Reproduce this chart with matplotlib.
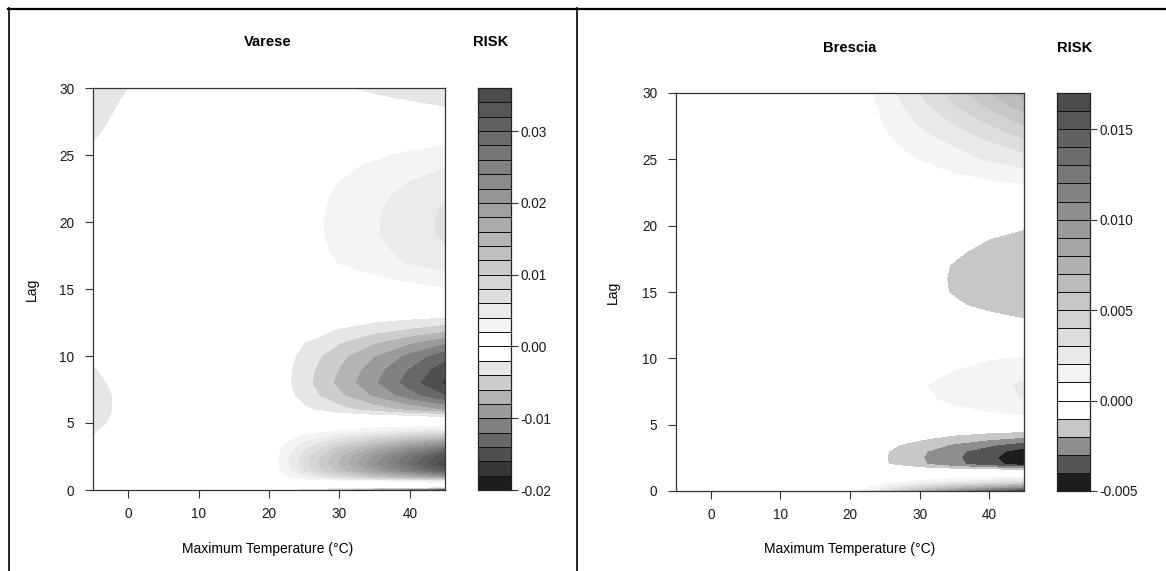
import numpy as np
import matplotlib
matplotlib.use('Agg')
import matplotlib.pyplot as plt
from matplotlib.colors import ListedColormap, LinearSegmentedColormap
from matplotlib.lines import Line2D

plt.rcParams['font.family'] = ['Liberation Sans', 'DejaVu Sans']

# ---------------- data (risk values in units of 0.001) ----------------
temps = [-5, 0, 5, 10, 15, 20, 25, 30, 35, 40, 45]

varese_lags = [0, 0.2, 0.45, 0.7, 1, 1.5, 2, 2.5, 3, 3.5, 4, 4.5, 5, 5.5, 6, 7, 8, 9, 10,
               11, 12, 13, 14, 15, 16, 17, 18, 19, 20, 21, 22, 23, 24, 25, 26, 27, 28, 29, 30]
varese_risk_milli = [
    [0, 0, 0, 0, 0, 0, -3.8, -7.6, -11.4, -15.2, -19.0],
    [0, 0, 0, 0, 0, 0, -0.5, -1.0, -1.5, -2.0, -2.5],
    [0, 0, 0, 0, 0, 0, 0.1, 0.2, 0.3, 0.4, 0.5],
    [0, 0, 0, 0, 0, 0, 0.7, 1.4, 2.1, 2.8, 3.5],
    [0, 0, 0, 0, 0, 0, 3.9, 7.8, 11.8, 15.7, 19.6],
    [0, 0, 0, 0, 0, 0, 6.4, 12.8, 19.2, 25.6, 32.0],
    [0, 0, 0, 0, 0, 0, 7.1, 14.2, 21.4, 28.5, 35.6],
    [0, 0, 0, 0, 0, 0, 6.8, 13.5, 20.3, 27.0, 33.8],
    [0, 0, 0, 0, 0, 0, 5.7, 11.4, 17.1, 22.8, 28.5],
    [-1.4, -0.3, 0, 0, 0, 0, 4.1, 8.2, 12.4, 16.5, 20.6],
    [-2.0, -0.6, 0, 0, 0, 0, 2.3, 4.7, 7.0, 9.4, 11.7],
    [-2.3, -0.8, 0, 0, 0, 0, 0.9, 1.7, 2.6, 3.4, 4.3],
    [-2.6, -1.1, 0, 0, 0, 0, 0.0, -0.1, -0.1, -0.2, -0.2],
    [-2.8, -1.2, 0, 0, 0, 0, -0.5, -1.0, -1.5, -2.0, -2.5],
    [-2.9, -1.3, 0, 0, 0, 0, -1.6, -3.3, -4.9, -6.6, -8.2],
    [-2.9, -1.3, 0, 0, 0, 0, -2.8, -5.6, -8.3, -11.1, -13.9],
    [-2.6, -1.1, 0, 0, 0, 0, -3.3, -6.6, -9.8, -13.1, -16.4],
    [-2.2, -0.8, 0, 0, 0, 0, -3.1, -6.1, -9.2, -12.2, -15.3],
    [-1.5, -0.5, 0, 0, 0, 0, -2.7, -5.4, -8.0, -10.7, -13.4],
    [-0.8, -0.2, 0, 0, 0, 0, -2.0, -3.9, -5.9, -7.8, -9.8],
    [-0.3, 0, 0, 0, 0, 0, -1.1, -2.1, -3.2, -4.2, -5.3],
    [0, 0, 0, 0, 0, 0, -0.3, -0.6, -1.0, -1.3, -1.6],
    [0, 0, 0, 0, 0, 0, 0.1, 0.2, 0.3, 0.4, 0.5],
    [0, 0, 0, 0, 0, 0, 0.4, 0.7, 1.1, 1.4, 1.8],
    [0, 0, 0, 0, 0, 0, 0.6, 1.3, 1.9, 2.6, 3.2],
    [0, 0, 0, 0, 0, 0, 1.0, 2.1, 3.1, 4.2, 5.2],
    [0, 0, 0, 0, 0, 0, 1.2, 2.3, 3.5, 4.6, 5.8],
    [0, 0, 0, 0, 0, 0, 1.3, 2.5, 3.8, 5.0, 6.3],
    [0, 0, 0, 0, 0, 0, 1.3, 2.5, 3.8, 5.1, 6.35],
    [0, 0, 0, 0, 0, 0, 1.2, 2.5, 3.7, 5.0, 6.2],
    [0, 0, 0, 0, 0, 0, 1.1, 2.3, 3.4, 4.6, 5.7],
    [0, 0, 0, 0, 0, 0, 1.0, 2.0, 3.0, 4.0, 5.0],
    [-0.6, 0, 0, 0, 0, 0, 0.8, 1.6, 2.4, 3.2, 4.0],
    [-1.3, -0.2, 0, 0, 0, 0, 0.6, 1.2, 1.7, 2.3, 2.9],
    [-2.1, -0.5, 0, 0, 0, 0, 0.3, 0.6, 1.0, 1.3, 1.6],
    [-2.6, -0.8, -0.1, 0, 0, 0, 0.1, 0.1, 0.2, 0.2, 0.3],
    [-3.0, -1.2, -0.2, 0, 0, 0, -0.2, -0.5, -0.9, -1.2, -1.6],
    [-3.3, -1.6, -0.4, 0, 0, 0, -0.4, -1.0, -1.5, -2.0, -2.3],
    [-3.5, -2.05, -0.8, 0, 0, 0, -0.8, -1.8, -2.5, -2.9, -3.1],
]

brescia_lags = [0, 0.3, 0.6, 1, 1.3, 1.5, 2, 2.5, 3, 3.5, 4, 4.5, 5, 5.5, 6, 7, 8, 9, 10,
                11, 12, 13, 14, 15, 16, 17, 18, 19, 20, 21, 22, 23, 24, 25, 26, 27, 28, 29, 30]
brescia_risk_milli = [
    [0, 0, 0, 0, 0, 0, 3.3, 6.6, 9.9, 13.2, 16.5],
    [0, 0, 0, 0, 0, 0, 1.8, 3.6, 5.5, 7.3, 9.1],
    [0, 0, 0, 0, 0, 0, 0.8, 1.6, 2.5, 3.3, 4.1],
    [0, 0, 0, 0, 0, 0, 0.2, 0.4, 0.7, 0.9, 1.1],
    [0, 0, 0, 0, 0, 0, 0, 0, 0, 0, 0],
    [0, 0, 0, 0, 0, 0, -0.1, -0.2, -0.3, -0.4, -0.5],
    [0, 0, 0, 0, 0, 0, -0.9, -1.8, -2.7, -3.6, -4.5],
    [0, 0, 0, 0, 0, 0, -0.94, -1.9, -2.8, -3.8, -4.7],
    [0, 0, 0, 0, 0, 0, -0.9, -1.8, -2.7, -3.6, -4.45],
    [0, 0, 0, 0, 0, 0, -0.7, -1.4, -2.1, -2.8, -3.5],
    [0, 0, 0, 0, 0, 0, -0.4, -0.8, -1.3, -1.7, -2.1],
    [0, 0, 0, 0, 0, 0, -0.2, -0.4, -0.6, -0.8, -0.95],
    [0, 0, 0, 0, 0, 0, 0, 0.1, 0.1, 0.2, 0.2],
    [0, 0, 0, 0, 0, 0, 0.1, 0.3, 0.4, 0.5, 0.65],
    [0, 0, 0, 0, 0, 0, 0.3, 0.5, 0.8, 1.0, 1.3],
    [0, 0, 0, 0, 0, 0, 0.4, 0.8, 1.2, 1.6, 2.05],
    [0, 0, 0, 0, 0, 0, 0.4, 0.9, 1.3, 1.7, 2.15],
    [0, 0, 0, 0, 0, 0, 0.3, 0.7, 1.0, 1.4, 1.7],
    [0, 0, 0, 0, 0, 0, 0.2, 0.4, 0.6, 0.9, 1.08],
    [0, 0, 0, 0, 0, 0, 0.1, 0.1, 0.2, 0.2, 0.3],
    [0, 0, 0, 0, 0, 0, -0.1, -0.2, -0.3, -0.4, -0.45],
    [0, 0, 0, 0, 0, 0, -0.2, -0.4, -0.6, -0.8, -1.02],
    [0, 0, 0, 0, 0, 0, -0.3, -0.6, -0.9, -1.2, -1.53],
    [0, 0, 0, 0, 0, 0, -0.35, -0.7, -1.06, -1.41, -1.76],
    [0, 0, 0, 0, 0, 0, -0.36, -0.72, -1.08, -1.44, -1.8],
    [0, 0, 0, 0, 0, 0, -0.35, -0.7, -1.05, -1.4, -1.75],
    [0, 0, 0, 0, 0, 0, -0.3, -0.6, -0.9, -1.2, -1.53],
    [0, 0, 0, 0, 0, 0, -0.25, -0.5, -0.76, -1.0, -1.26],
    [0, 0, 0, 0, 0, 0, -0.18, -0.36, -0.54, -0.72, -0.9],
    [0, 0, 0, 0, 0, 0, -0.1, -0.2, -0.3, -0.4, -0.5],
    [0, 0, 0, 0, 0, 0, 0, 0.1, 0.1, 0.2, 0.2],
    [0, 0, 0, 0, 0, 0, 0.2, 0.4, 0.5, 0.7, 0.9],
    [0, 0, 0, 0, 0, 0, 0.3, 0.7, 1.0, 1.3, 1.65],
    [0, 0, 0, 0, 0, 0, 0.5, 1.0, 1.6, 2.1, 2.6],
    [0, 0, 0, 0, 0, 0, 0.7, 1.4, 2.0, 2.7, 3.4],
    [0, 0, 0, 0, 0, 0, 0.9, 1.8, 2.6, 3.5, 4.4],
    [0, 0, 0, 0, 0, 0, 1.1, 2.2, 3.2, 4.3, 5.4],
    [0, 0, 0, 0, 0, 0, 1.3, 2.6, 3.9, 5.2, 6.5],
    [0, 0, 0, 0, 0, 0, 1.5, 3.0, 4.4, 5.9, 7.4],
]

varese_levels = np.linspace(-0.020, 0.036, 29)
brescia_levels = np.linspace(-0.005, 0.017, 23)
varese_ticks = [-0.02, -0.01, 0.0, 0.01, 0.02, 0.03]
varese_ticklabels = ['-0.02', '-0.01', '0.00', '0.01', '0.02', '0.03']
brescia_ticks = [-0.005, 0.0, 0.005, 0.010, 0.015]
brescia_ticklabels = ['-0.005', '0.000', '0.005', '0.010', '0.015']
x_ticks = [0, 10, 20, 30, 40]
y_ticks = [0, 5, 10, 15, 20, 25, 30]

# ---------------- drawing ----------------
W, H = 1166, 571
fig = plt.figure(figsize=(W / 100, H / 100), dpi=100)
fig.patch.set_facecolor('white')

TICK_FS = 9.8
LABEL_FS = 10
TITLE_FS = 10.6


def fx(px):
    return px / W


def fy(py):
    return 1 - py / H


def risk_colors(levels):
    lv = np.asarray(levels)
    n_neg = int(np.sum(lv < -1e-12))
    n_pos = int(np.sum(lv > 1e-12))
    neg = LinearSegmentedColormap.from_list('neg', ['#1d1d1d', '#ffffff'])
    pos = LinearSegmentedColormap.from_list('pos', ['#ffffff', '#4c4c4c'])
    cols = [neg(i / (n_neg - 1)) for i in range(n_neg)]
    cols += [pos(i / (n_pos - 1)) for i in range(n_pos)]
    return cols


def panel(box, cbox, lags, risk, levels, ticks, ticklabels):
    x0, y0, x1, y1 = box
    ax = fig.add_axes([fx(x0), fy(y1), fx(x1 - x0), (y1 - y0) / H])
    z = np.array(risk) * 1e-3
    cols = risk_colors(levels)
    ax.contourf(temps, lags, z, levels=levels, colors=cols, antialiased=False)
    ax.set_xlim(-5, 45)
    ax.set_ylim(0, 30)
    ax.set_xticks(x_ticks)
    ax.set_yticks(y_ticks)
    ax.tick_params(direction='out', length=5.5, width=0.8, color='#333333',
                   labelsize=TICK_FS, labelcolor='#1a1a1a')
    ax.tick_params(axis='x', pad=7)
    ax.tick_params(axis='y', pad=8)
    for s in ax.spines.values():
        s.set_color('#333333')
        s.set_linewidth(0.9)

    cx0, cy0, cx1, cy1 = cbox
    cax = fig.add_axes([fx(cx0), fy(cy1), fx(cx1 - cx0), (cy1 - cy0) / H])
    n = len(levels) - 1
    cax.pcolormesh([0, 1], levels, np.arange(n).reshape(n, 1),
                   cmap=ListedColormap(cols), vmin=-0.5, vmax=n - 0.5,
                   edgecolors='#111111', linewidth=0.7)
    cax.set_xlim(0, 1)
    cax.set_ylim(levels[0], levels[-1])
    cax.set_xticks([])
    cax.yaxis.tick_right()
    cax.set_yticks(ticks)
    cax.set_yticklabels(ticklabels)
    cax.tick_params(axis='y', direction='out', length=5, width=0.8, color='#333333',
                    labelsize=TICK_FS, labelcolor='#1a1a1a', pad=1.5)
    for s in cax.spines.values():
        s.set_color('#222222')
        s.set_linewidth(0.9)
    return ax, cax


panel((93, 88, 445, 490), (478, 88, 511, 490), varese_lags, varese_risk_milli,
      varese_levels, varese_ticks, varese_ticklabels)
panel((676, 93, 1024, 491), (1057, 93, 1090, 491), brescia_lags, brescia_risk_milli,
      brescia_levels, brescia_ticks, brescia_ticklabels)

# titles and labels
fig.text(fx(268), fy(42), 'Varese', ha='center', va='center', fontsize=TITLE_FS, fontweight='bold')
fig.text(fx(491), fy(42), 'RISK', ha='center', va='center', fontsize=TITLE_FS, fontweight='bold')
fig.text(fx(850), fy(48), 'Brescia', ha='center', va='center', fontsize=TITLE_FS, fontweight='bold')
fig.text(fx(1075), fy(48), 'RISK', ha='center', va='center', fontsize=TITLE_FS, fontweight='bold')
fig.text(fx(32), fy(289), 'Lag', ha='center', va='center', rotation=90, fontsize=LABEL_FS)
fig.text(fx(613), fy(292), 'Lag', ha='center', va='center', rotation=90, fontsize=LABEL_FS)
fig.text(fx(268), fy(549), 'Maximum Temperature (°C)', ha='center', va='center', fontsize=LABEL_FS)
fig.text(fx(850), fy(549), 'Maximum Temperature (°C)', ha='center', va='center', fontsize=LABEL_FS)

# outer frame lines
fig.add_artist(Line2D([fx(8), 1.0], [fy(9), fy(9)], color='black', lw=1.6,
                      transform=fig.transFigure))
fig.add_artist(Line2D([fx(9), fx(9)], [0, fy(8)], color='black', lw=1.2,
                      transform=fig.transFigure))
fig.add_artist(Line2D([fx(577), fx(577)], [0, fy(8)], color='black', lw=1.2,
                      transform=fig.transFigure))

fig.savefig('out.png', dpi=100, facecolor='white')
